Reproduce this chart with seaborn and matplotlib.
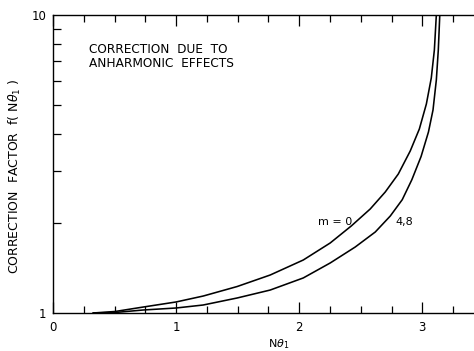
import matplotlib
matplotlib.use("Agg")
import matplotlib.pyplot as plt
import seaborn as sns
import pandas as pd
from matplotlib.ticker import FixedLocator, NullFormatter, MultipleLocator

# Data
x_m0 = [0.325, 0.504, 0.732, 1.0, 1.220, 1.496, 1.764, 2.033, 2.252, 2.423, 2.577,
        2.699, 2.805, 2.902, 2.976, 3.033, 3.073, 3.098, 3.114]
y_m0 = [1.0, 1.0117, 1.047, 1.089, 1.140, 1.227, 1.341, 1.506, 1.718, 1.959, 2.234,
        2.547, 2.927, 3.497, 4.144, 5.027, 6.146, 7.63, 10.0]
x_m48 = [0.325, 0.504, 0.732, 1.0, 1.220, 1.496, 1.764, 2.033, 2.252, 2.455, 2.618,
         2.740, 2.837, 2.915, 2.990, 3.050, 3.087, 3.114, 3.130, 3.142]
y_m48 = [1.0, 1.0039, 1.0234, 1.0394, 1.0637, 1.123, 1.194, 1.311, 1.472, 1.665, 1.870,
         2.116, 2.40, 2.80, 3.35, 4.05, 4.80, 6.051, 7.63, 10.0]
series_names = ["m = 0", "4,8"]
x_ticks = [0, 1, 2, 3]
x_ticklabels = ["0", "1", "2", "3"]
y_ticks = [1, 10]
y_ticklabels = ["1", "10"]

df = pd.concat([
    pd.DataFrame({"x": x_m0, "y": y_m0, "s": series_names[0]}),
    pd.DataFrame({"x": x_m48, "y": y_m48, "s": series_names[1]}),
], ignore_index=True)

sns.set_style("ticks")
plt.rcParams["font.family"] = ["DejaVu Sans"]
plt.rcParams["text.color"] = "black"
plt.rcParams["axes.labelcolor"] = "black"
plt.rcParams["xtick.color"] = "black"
plt.rcParams["ytick.color"] = "black"

fig = plt.figure(figsize=(4.74, 3.51), dpi=100)
ax = fig.add_axes([53/474, 1 - 313/351, 1 - 53/474, (313 - 15)/351])

sns.lineplot(data=df, x="x", y="y", hue="s", palette=["black", "black"],
             sort=False, estimator=None, linewidth=1.15, legend=False, ax=ax)
for ln in ax.get_lines():
    ln.set_solid_joinstyle("round")

ax.set_yscale("log")
ax.set_xlim(0, 3.42)
ax.set_ylim(1, 10)

ax.xaxis.set_major_locator(FixedLocator(x_ticks))
ax.set_xticklabels(x_ticklabels)
ax.xaxis.set_minor_locator(MultipleLocator(0.25))
ax.yaxis.set_major_locator(FixedLocator(y_ticks))
ax.set_yticklabels(y_ticklabels)
ax.yaxis.set_minor_locator(FixedLocator([2, 3, 4, 5, 6, 7, 8, 9]))
ax.yaxis.set_minor_formatter(NullFormatter())

ax.tick_params(axis="x", which="both", direction="in", top=True, bottom=True,
               labelsize=8.5, pad=6, colors="black")
ax.tick_params(axis="x", which="major", length=8, width=0.9)
ax.tick_params(axis="x", which="minor", length=5, width=0.9)
ax.tick_params(axis="y", which="both", direction="in", left=True, right=False,
               labelsize=8.5, pad=5, colors="black")
ax.tick_params(axis="y", which="major", length=0)
ax.tick_params(axis="y", which="minor", length=6, width=0.9)

for side in ["left", "bottom", "top"]:
    ax.spines[side].set_linewidth(1.0)
    ax.spines[side].set_color("black")
ax.spines["right"].set_visible(False)

ax.set_xlabel(r"N$\theta_1$", fontsize=8)
ax.xaxis.set_label_coords((279 - 53) / (474 - 53), -0.08)
ax.set_ylabel(r"CORRECTION  FACTOR  f( N$\theta_1$ )", fontsize=9)
ax.yaxis.set_label_coords(-0.072, 0.46)

ax.text(0.085, 0.905, "CORRECTION  DUE  TO\nANHARMONIC  EFFECTS", transform=ax.transAxes,
        fontsize=8.7, va="top", ha="left", linespacing=1.05)
ax.text(2.15, 2.02, series_names[0], fontsize=8, va="center", ha="left")
ax.text(2.78, 2.02, series_names[1], fontsize=8, va="center", ha="left")

fig.savefig("out.png", dpi=100)
